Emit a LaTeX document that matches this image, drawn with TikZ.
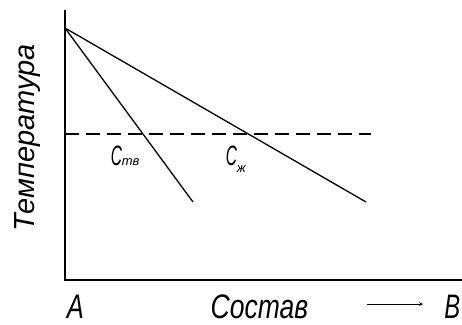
\documentclass[tikz,border=0pt]{standalone}
\usepackage{fontspec}
\setmainfont{Liberation Sans}
\begin{document}
\begin{tikzpicture}[x=1pt,y=-1pt,>=stealth,line width=1.5pt]
        \tikzset{lbl/.style={inner sep=0pt,font=\itshape}}
        \useasboundingbox (0,0) rectangle (462,324);
        % axes
        \coordinate (origin) at (65,280);
        \coordinate (ytop) at (65,10);
        \coordinate (xend) at (462,280);
        \draw (ytop) -- (origin) -- (xend);
        % lines
        \coordinate (start) at (65,28);
        \coordinate (solidend) at (193,202);
        \coordinate (liquidend) at (366,202);
        \draw[line width=1.3pt] (start) -- (solidend);
        \draw[line width=1.3pt] (start) -- (liquidend);
        \coordinate (tleft) at (65,134);
        \coordinate (tright) at (371,134);
        \draw[line width=1.3pt, dash pattern=on 14pt off 7pt] (tleft) -- (tright);

        \node (csolid) [lbl, anchor=base west] at (110,165) {\fontsize{28}{28}\selectfont\scalebox{0.55}[1]{C}\fontsize{13}{13}\selectfont тв};
        \node (cliquid) [lbl, anchor=base west] at (225,165) {\fontsize{28}{28}\selectfont\scalebox{0.55}[1]{C}\raisebox{-7pt}{\fontsize{13}{13}\selectfont ж}};

        \node (temp) [lbl, rotate=90, anchor=base] at (34,137.5) {\fontsize{29}{29}\selectfont Температура};
        \node (a) [lbl, anchor=base] at (75.5,318) {\fontsize{34}{34}\selectfont\scalebox{0.75}[1]{A}};
        \node (comp) [lbl, anchor=base] at (259.5,318) {\fontsize{34}{34}\selectfont\scalebox{0.78}[1]{Состав}};
        \node (b) [lbl, anchor=base east] at (461,318) {\fontsize{34}{34}\selectfont\scalebox{0.7}[1]{B}};
        \coordinate (arrfrom) at (367,304);
        \coordinate (arrto) at (423,304);
        \draw[->, line width=0.8pt] (arrfrom) -- (arrto);
    \end{tikzpicture}
\end{document}
